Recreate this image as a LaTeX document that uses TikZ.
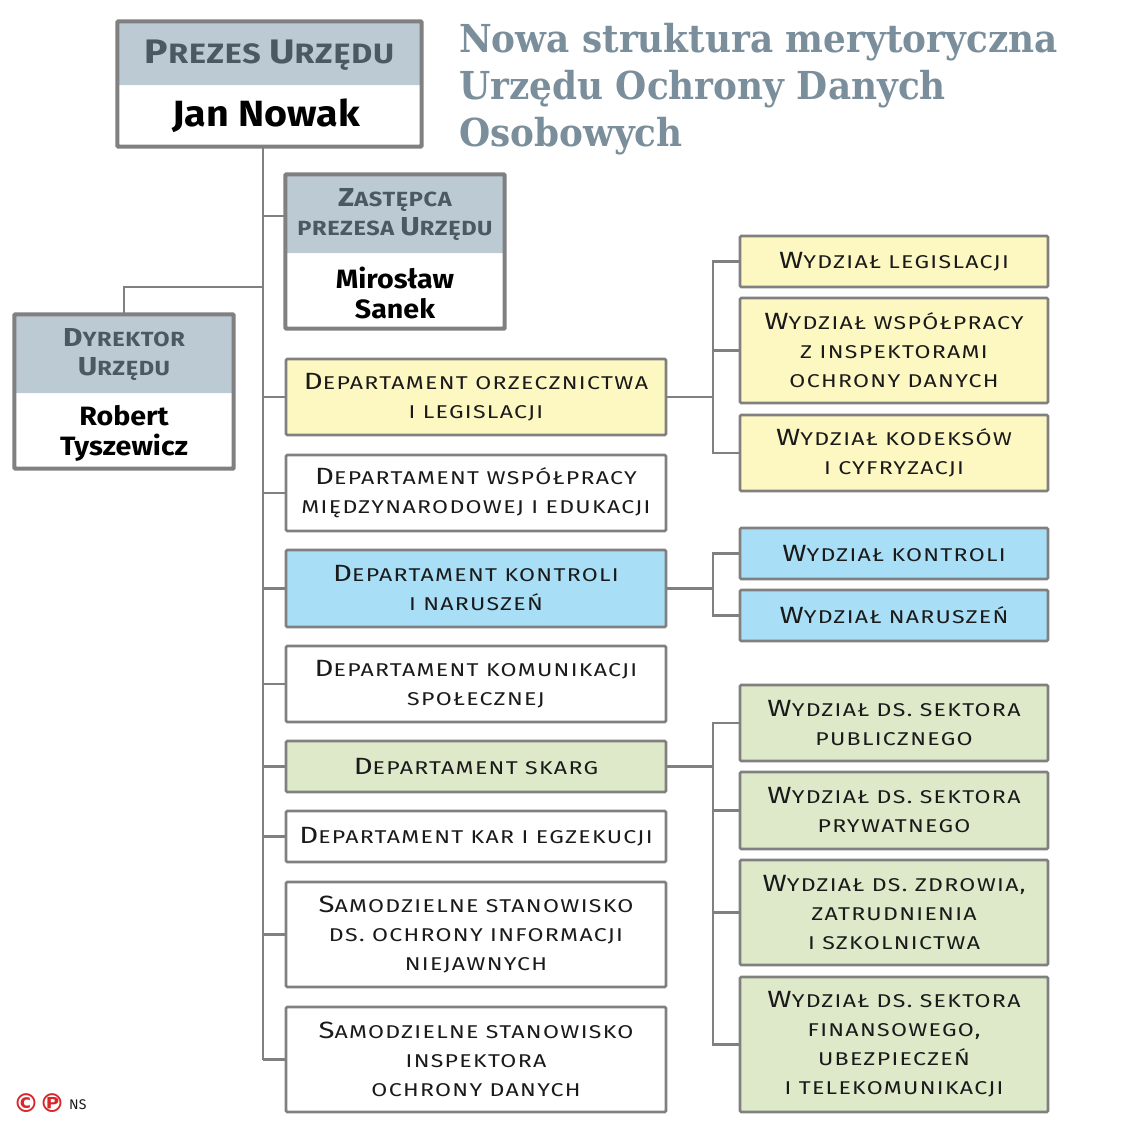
\documentclass[tikz,border=0pt]{standalone}
\usepackage{fontspec}
\setmainfont{Fira Sans}
\newfontfamily\boxfont{Fira Sans}[FakeStretch=1.25, LetterSpace=7]
\newfontfamily\hdrfont{Fira Sans}[FakeStretch=1.15, LetterSpace=3]
\newfontfamily\namefont{Fira Sans}[FakeStretch=1.08]
\newfontfamily\titlefont{DejaVu Serif}[FakeStretch=0.93]
\newfontfamily\symfont{DejaVu Sans}
\definecolor{hdrgray}{HTML}{BCCAD3}
\definecolor{hdrtext}{HTML}{4B5963}
\definecolor{boxline}{HTML}{808080}
\definecolor{yfill}{HTML}{FDF8C2}
\definecolor{bfill}{HTML}{A9DFF6}
\definecolor{gfill}{HTML}{DDE9C9}
\definecolor{titlecol}{HTML}{7A8E9B}
\definecolor{txt}{HTML}{1A1A1A}
\definecolor{logored}{HTML}{D9262B}
\newcommand\B[1]{{\fontsize{23.5}{29}\selectfont #1}}
\newcommand\HB[1]{{\fontsize{34}{29}\selectfont #1}}
\newcommand\HBs[1]{{\fontsize{26}{29}\selectfont #1}}
\tikzset{
  unitbox/.style={draw=boxline, line width=2.6pt, rounded corners=1.2pt, inner sep=0pt,
    align=center, text=txt, font=\boxfont\fontsize{18.5}{29}\selectfont},
  dept/.style={unitbox, minimum width=380pt},
  wydz/.style={unitbox, minimum width=308pt},
  person/.style={draw=boxline, line width=2.6pt, rounded corners=1.2pt, fill=white, inner sep=0pt},
  hdrtxt/.style={text=hdrtext, font=\hdrfont\bfseries\fontsize{20.5}{29}\selectfont, align=center, inner sep=0pt},
  nametxt/.style={text=black, font=\namefont\bfseries\fontsize{26.5}{30}\selectfont, align=center, inner sep=0pt},
  conn/.style={draw=boxline, line width=2.4pt},
}
\begin{document}
\begin{tikzpicture}[x=1pt,y=-1pt]
\useasboundingbox[fill=white] (0,0) rectangle (1137,1122);

% title
\node[anchor=west, inner sep=0pt, text=titlecol, font=\titlefont\bfseries\fontsize{38.5}{47}\selectfont, align=left] (title) at (459,89)
  {Nowa struktura merytoryczna\\Urzędu Ochrony Danych\\Osobowych};

% person boxes
\node[person, minimum width=303pt, minimum height=124pt,
  path picture={\fill[hdrgray] (path picture bounding box.north west) rectangle ([yshift=-63pt]path picture bounding box.north east);}]
  (prezes) at (269.5,84) {};
\draw[boxline, line width=2.6pt, rounded corners=1.2pt] (prezes.north west) rectangle (prezes.south east);
\node[hdrtxt, font=\hdrfont\bfseries\fontsize{28}{29}\selectfont] (prezesH) at (269.5,55) {\HB{P}REZES \HB{U}RZĘDU};
\node[nametxt, font=\namefont\bfseries\fontsize{36.5}{36}\selectfont] (prezesN) at (266,116) {Jan Nowak};

\node[person, minimum width=218pt, minimum height=153pt,
  path picture={\fill[hdrgray] (path picture bounding box.north west) rectangle ([yshift=-78pt]path picture bounding box.north east);}]
  (zast) at (395,251.5) {};
\draw[boxline, line width=2.6pt, rounded corners=1.2pt] (zast.north west) rectangle (zast.south east);
\node[hdrtxt] (zastH) at (395,215) {\HBs{Z}ASTĘPCA\\PREZESA \HBs{U}RZĘDU};
\node[nametxt] (zastN) at (395,293) {Mirosław\\Sanek};

\node[person, minimum width=218pt, minimum height=153pt,
  path picture={\fill[hdrgray] (path picture bounding box.north west) rectangle ([yshift=-78pt]path picture bounding box.north east);}]
  (dyr) at (124,391.5) {};
\draw[boxline, line width=2.6pt, rounded corners=1.2pt] (dyr.north west) rectangle (dyr.south east);
\node[hdrtxt] (dyrH) at (124,355) {\HBs{D}YREKTOR\\\HBs{U}RZĘDU};
\node[nametxt] (dyrN) at (124,433) {Robert\\Tyszewicz};

% departments
\node[dept, fill=yfill, minimum height=76pt] (d1) at (476,397) {\B{D}EPARTAMENT ORZECZNICTWA\\I LEGISLACJI};
\node[dept, fill=white, minimum height=76pt] (d2) at (476,493) {\B{D}EPARTAMENT WSPÓŁPRACY\\MIĘDZYNARODOWEJ I EDUKACJI};
\node[dept, fill=bfill, minimum height=77pt] (d3) at (476,588.5) {\B{D}EPARTAMENT KONTROLI\\I NARUSZEŃ};
\node[dept, fill=white, minimum height=76pt] (d4) at (476,684) {\B{D}EPARTAMENT KOMUNIKACJI\\SPOŁECZNEJ};
\node[dept, fill=gfill, minimum height=51pt] (d5) at (476,766.5) {\B{D}EPARTAMENT SKARG};
\node[dept, fill=white, minimum height=51pt] (d6) at (476,836.5) {\B{D}EPARTAMENT KAR I EGZEKUCJI};
\node[dept, fill=white, minimum height=105pt] (d7) at (476,934.5) {\B{S}AMODZIELNE STANOWISKO\\DS. OCHRONY INFORMACJI\\NIEJAWNYCH};
\node[dept, fill=white, minimum height=105pt] (d8) at (476,1059.5) {\B{S}AMODZIELNE STANOWISKO\\INSPEKTORA\\OCHRONY DANYCH};

% wydzialy
\node[wydz, fill=yfill, minimum height=51pt] (wa) at (894,261.5) {\B{W}YDZIAŁ LEGISLACJI};
\node[wydz, fill=yfill, minimum height=105pt] (wb) at (894,350.5) {\B{W}YDZIAŁ WSPÓŁPRACY\\Z INSPEKTORAMI\\OCHRONY DANYCH};
\node[wydz, fill=yfill, minimum height=76pt] (wc) at (894,453) {\B{W}YDZIAŁ KODEKSÓW\\I CYFRYZACJI};
\node[wydz, fill=bfill, minimum height=51pt] (wd) at (894,553.5) {\B{W}YDZIAŁ KONTROLI};
\node[wydz, fill=bfill, minimum height=51pt] (we) at (894,615.5) {\B{W}YDZIAŁ NARUSZEŃ};
\node[wydz, fill=gfill, minimum height=76pt] (wf) at (894,723) {\B{W}YDZIAŁ DS. SEKTORA\\PUBLICZNEGO};
\node[wydz, fill=gfill, minimum height=77pt] (wg) at (894,810.5) {\B{W}YDZIAŁ DS. SEKTORA\\PRYWATNEGO};
\node[wydz, fill=gfill, minimum height=105pt] (wh) at (894,912.5) {\B{W}YDZIAŁ DS. ZDROWIA,\\ZATRUDNIENIA\\I SZKOLNICTWA};
\node[wydz, fill=gfill, minimum height=135pt] (wi) at (894,1044.5) {\B{W}YDZIAŁ DS. SEKTORA\\FINANSOWEGO,\\UBEZPIECZEŃ\\I TELEKOMUNIKACJI};

% connectors
\coordinate (trunkTop) at (263,146);
\coordinate (trunkBot) at (263,1059.5);
\coordinate (zj) at (263,216);
\coordinate (dj) at (263,287);
\coordinate (rb) at (713,0);
\draw[conn] (trunkTop) -- (trunkBot);
\draw[conn] (zj) -- (zj -| zast.west);
\draw[conn] (dj) -| (dyr.north);
\foreach \d in {d1,d2,d3,d4,d5,d6,d7,d8} {\draw[conn] (\d.west -| trunkTop) -- (\d.west);}
\draw[conn] (d1.east) -- (d1.east -| rb);
\draw[conn] (wa.west) -- (wa.west -| rb) |- (wc.west);
\draw[conn] (wb.west) -- (wb.west -| rb);
\draw[conn] (d3.east) -- (d3.east -| rb);
\draw[conn] (wd.west) -- (wd.west -| rb) |- (we.west);
\draw[conn] (d5.east) -- (d5.east -| rb);
\draw[conn] (wf.west) -- (wf.west -| rb) |- (wi.west);
\draw[conn] (wg.west) -- (wg.west -| rb);
\draw[conn] (wh.west) -- (wh.west -| rb);

% logo
\node[anchor=west, inner sep=0pt, text=logored, font=\symfont\bfseries\fontsize{26}{26}\selectfont] (logo) at (13,1103) {©℗};
\node[anchor=west, inner sep=0pt, text=txt, font=\fontsize{14}{14}\selectfont] (ns) at (69,1105) {NS};
\end{tikzpicture}
\end{document}
